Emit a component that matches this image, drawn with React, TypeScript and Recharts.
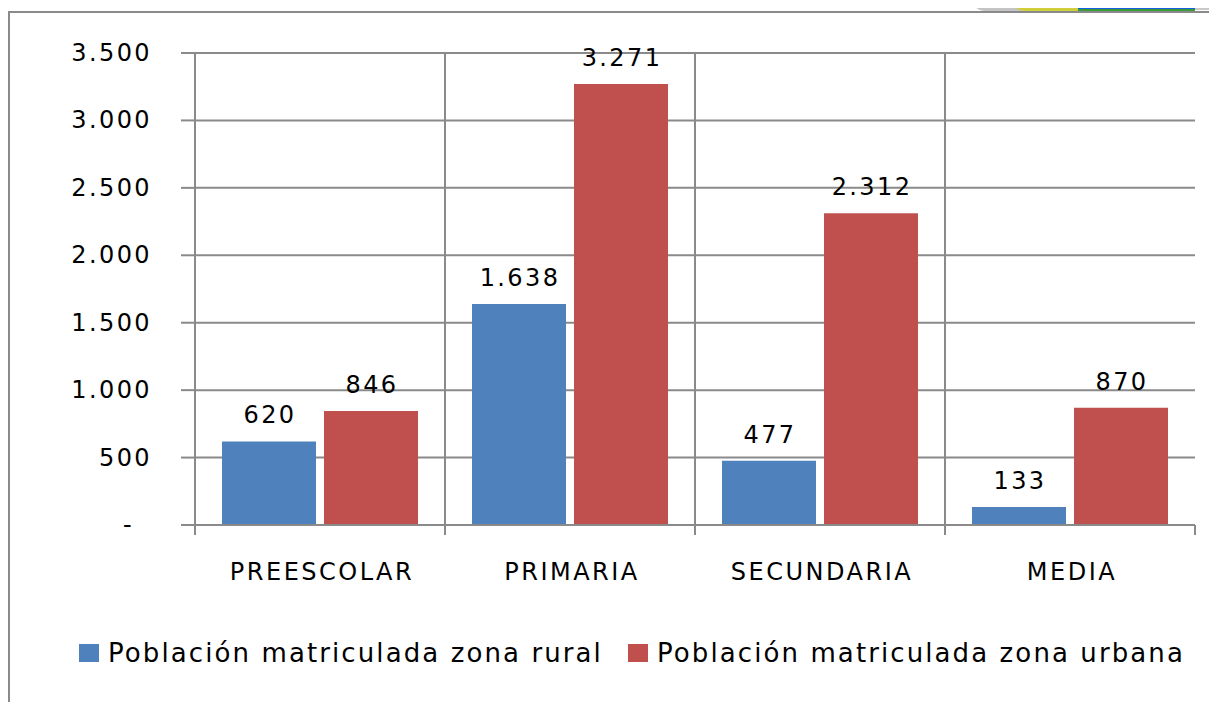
import React from 'react';
import { BarChart, Bar, XAxis, YAxis, CartesianGrid, Legend, LabelList } from 'recharts';

const categories = ['PREESCOLAR', 'PRIMARIA', 'SECUNDARIA', 'MEDIA'];
const rural = [620, 1638, 477, 133];
const urbana = [846, 3271, 2312, 870];
const yTicks = [0, 500, 1000, 1500, 2000, 2500, 3000, 3500];

const seriesNames = ['Población matriculada zona rural', 'Población matriculada zona urbana'];
const seriesColors = ['#4F81BD', '#C0504D'];

const data = categories.map((c, i) => ({ name: c, rural: rural[i], urbana: urbana[i] }));

const GRID = '#8a8a8a';
const FONT = '"DejaVu Sans", Verdana, sans-serif';

const fmt = (v: number) => (v === 0 ? '-' : String(v).replace(/\B(?=(\d{3})+(?!\d))/g, '.'));

const YTick = (props: any) => {
  const { x, y, payload } = props;
  const zero = payload.value === 0;
  return (
    <text
      x={zero ? x - 16 : x + 2}
      y={y}
      textAnchor="end"
      dominantBaseline="central"
      fontFamily={FONT}
      fontSize={24}
      letterSpacing={2.4}
      fill="#000"
    >
      {fmt(payload.value)}
    </text>
  );
};

const XTick = (props: any) => {
  const { x, y, payload, index, width, visibleTicksCount } = props;
  const band = width / visibleTicksCount;
  const axisY = y - 8;
  const last = index === visibleTicksCount - 1;
  return (
    <g>
      <line x1={x - band / 2} x2={x - band / 2} y1={axisY} y2={axisY + 10} stroke={GRID} strokeWidth={2} />
      {last && (
        <line x1={x + band / 2} x2={x + band / 2} y1={axisY} y2={axisY + 10} stroke={GRID} strokeWidth={2} />
      )}
      <text
        x={x + 2}
        y={axisY + 47}
        textAnchor="middle"
        dominantBaseline="central"
        fontFamily={FONT}
        fontSize={24}
        letterSpacing={2.5}
        fill="#000"
      >
        {payload.value}
      </text>
    </g>
  );
};

const LegendContent = () => (
  <div style={{ display: 'flex', alignItems: 'center', height: 30, fontFamily: FONT, fontSize: 26, letterSpacing: 2.1, color: '#000' }}>
    {seriesNames.map((n, i) => (
      <div key={n} style={{ display: 'flex', alignItems: 'center', marginLeft: i === 0 ? 0 : 25 }}>
        <span style={{ width: 20, height: 18, background: seriesColors[i], marginRight: 9, display: 'inline-block' }} />
        <span style={{ whiteSpace: 'nowrap' }}>{n}</span>
      </div>
    ))}
  </div>
);

const renderLabel = (props: any) => {
  const { x, y, width, value } = props;
  return (
    <text
      x={x + width / 2 + 1}
      y={y - 26}
      textAnchor="middle"
      dominantBaseline="central"
      fontFamily={FONT}
      fontSize={24}
      letterSpacing={2.4}
      fill="#000"
    >
      {fmt(value)}
    </text>
  );
};

export default function App() {
  return (
    <div style={{ position: 'relative', width: 1209, height: 694 }}>
      {/* partial logo peeking in at the top right */}
      <div style={{ position: 'absolute', top: -8, left: 965, width: 50, height: 11, background: '#c4c4c4', borderBottomLeftRadius: 30 }} />
      <div style={{ position: 'absolute', top: -8, left: 1005, width: 68, height: 11, background: '#cfcf3c', borderBottomLeftRadius: 20 }} />
      <div style={{ position: 'absolute', top: -8, left: 1070, width: 117, height: 9, background: '#1560e0', borderBottom: '2px solid #3a9a3a' }} />
      <div style={{ position: 'absolute', top: -8, left: 1187, width: 22, height: 10, background: '#c8c8c8' }} />
      <div
        style={{
          position: 'absolute',
          left: 0,
          top: 3,
          width: 1209,
          height: 691,
          borderLeft: `2px solid ${GRID}`,
          borderTop: `2px solid ${GRID}`,
          boxSizing: 'border-box',
        }}
      />
      <div style={{ position: 'absolute', left: 0, top: 0 }}>
        <BarChart
          width={1209}
          height={694}
          data={data}
          margin={{ top: 45, right: 22, bottom: 34, left: 0 }}
          barCategoryGap="10.8%"
          barGap={8}
        >
          <CartesianGrid
            stroke={GRID}
            strokeWidth={2}
            verticalCoordinatesGenerator={({ offset }: any) =>
              categories.map((_, i) => offset.left + (i * offset.width) / categories.length)
            }
          />
          <YAxis
            width={187}
            domain={[0, 3500]}
            ticks={yTicks}
            interval={0}
            tick={<YTick />}
            tickSize={14}
            tickMargin={31}
            axisLine={{ stroke: GRID, strokeWidth: 2 }}
            tickLine={{ stroke: GRID, strokeWidth: 2 }}
          />
          <XAxis
            dataKey="name"
            height={113}
            tick={<XTick />}
            tickLine={false}
            tickSize={0}
            tickMargin={8}
            interval={0}
            axisLine={{ stroke: GRID, strokeWidth: 2 }}
          />
          <Legend
            verticalAlign="bottom"
            align="left"
            content={<LegendContent />}
            wrapperStyle={{ left: 71, height: 30 }}
          />
          <Bar dataKey="rural" name={seriesNames[0]} fill={seriesColors[0]} isAnimationActive={false}>
            <LabelList dataKey="rural" content={renderLabel} />
          </Bar>
          <Bar dataKey="urbana" name={seriesNames[1]} fill={seriesColors[1]} isAnimationActive={false}>
            <LabelList dataKey="urbana" content={renderLabel} />
          </Bar>
        </BarChart>
      </div>
    </div>
  );
}
